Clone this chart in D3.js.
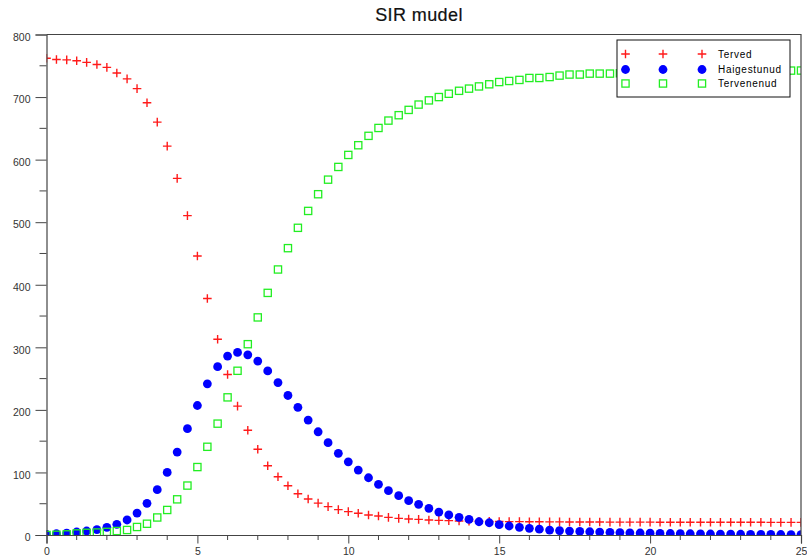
<!DOCTYPE html>
<html>
<head>
<meta charset="utf-8">
<script src="https://cdn.jsdelivr.net/npm/d3@7"></script>
<style>
  body { margin: 0; background: #fff; }
  svg { display: block; font-family: "Liberation Sans", Arial, sans-serif; }
</style>
</head>
<body>
<div id="chart"></div>
<script>
// time grid (days), step 1/3
const times = [0,0.33,0.67,1,1.33,1.67,2,2.33,2.67,3,3.33,3.67,4,4.33,4.67,5,5.33,5.67,6,6.33,6.67,
  7,7.33,7.67,8,8.33,8.67,9,9.33,9.67,10,10.33,10.67,11,11.33,11.67,12,12.33,12.67,13,13.33,13.67,
  14,14.33,14.67,15,15.33,15.67,16,16.33,16.67,17,17.33,17.67,18,18.33,18.67,19,19.33,19.67,20,
  20.33,20.67,21,21.33,21.67,22,22.33,22.67,23,23.33,23.67,24,24.33,24.67,25];

// Terved (S)
const terved = [762,760,759.5,758,755.5,752,747.5,738.5,729,713.5,
  691,660,621.5,570,510.5,446,378,313,256.5,206,
  167.5,137,110.7,93,78.8,66,57.5,51,45.3,40.5,
  37.3,34.7,32,30.4,28.2,26.6,25.6,25,24,23.4,
  22.9,22.4,22.1,21.9,21.7,21.5,21.4,21.3,21.2,21.1,
  21,20.9,20.8,20.8,20.7,20.7,20.6,20.6,20.5,20.5,
  20.5,20.4,20.4,20.4,20.4,20.3,20.3,20.3,20.3,20.3,
  20.3,20.3,20.2,20.2,20.2,20.2];

// Haigestunud (I)
const haigestunud = [1,2,3,4.8,6.4,8.5,12.3,17,24,35,
  50.6,72.4,100,132.6,170,207,241.7,269,286,291.8,
  288,278,262.3,243.7,223,204,183.7,165,147.5,130.5,
  117,103.8,91.5,81,70.8,62.8,54.8,49,42.6,36.7,
  32,28.2,25,21.2,19.6,16.5,14.4,12.3,10.7,9.3,
  7.8,7,6.3,5.7,5.2,4.7,4.2,3.8,3.5,3.2,
  2.9,2.6,2.4,2.2,2,1.8,1.6,1.5,1.3,1.2,
  1.1,1,0.9,0.8,0.7,0.6];

// Tervenenud (R)
const tervenenud = [0,0.4,1,2.5,3.5,4,5,6.4,8,12.8,
  18,28,40,57,79,108.6,141,178,220,262.5,
  305,347.8,387,424.4,458.5,491,518,544.7,568,588.3,
  607.5,623,638,650.6,662.4,671,679.5,688,694.7,700,
  705.3,710,713.5,717,720.4,724,725.7,727.4,730.5,730.5,
  732,734.3,736,736,737.5,737.5,737.5,738,738.5,739,
  739.3,739.6,739.9,740.2,740.5,740.8,741,741.2,741.4,741.6,
  741.8,742,742,742.2,742.3,742.4];

const seriesNames = ["Terved", "Haigestunud", "Tervenenud"];
const title = "SIR mudel";

const width = 807, height = 560;
const m = {left: 46.5, right: 801, top: 34.5, bottom: 535};

const svg = d3.select("#chart").append("svg")
  .attr("width", width).attr("height", height);

const x = d3.scaleLinear().domain([0, 25]).range([m.left, m.right]);
const y = d3.scaleLinear().domain([0, 800]).range([m.bottom, m.top]);

svg.append("text")
  .attr("x", 419).attr("y", 20.5)
  .attr("text-anchor", "middle")
  .attr("font-size", 18)
  .attr("letter-spacing", 0.4)
  .attr("stroke", "#111").attr("stroke-width", 0.2)
  .attr("fill", "#111")
  .text(title);

// clip markers to axes box
svg.append("defs").append("clipPath").attr("id", "plotclip")
  .append("rect")
  .attr("x", m.left).attr("y", m.top)
  .attr("width", m.right - m.left).attr("height", m.bottom - m.top);

const plot = svg.append("g").attr("clip-path", "url(#plotclip)");

const rows = times.map((t, i) => ({t, s: terved[i], i: haigestunud[i], r: tervenenud[i]}));

const crossPath = h => `M${-h},0H${h}M0,${-h}V${h}`;

function drawCross(g, cx, cy) {
  g.append("path")
    .attr("transform", `translate(${cx},${cy})`)
    .attr("d", crossPath(4.3))
    .attr("stroke", "#ff1a1a").attr("stroke-width", 1.4).attr("fill", "none");
}
function drawDot(g, cx, cy) {
  g.append("circle").attr("cx", cx).attr("cy", cy).attr("r", 4.4).attr("fill", "#0000ff");
}
function drawSquare(g, cx, cy) {
  g.append("rect").attr("x", cx - 3.6).attr("y", cy - 3.6)
    .attr("width", 7.2).attr("height", 7.2)
    .attr("fill", "none").attr("stroke", "#22ee22").attr("stroke-width", 1.3);
}

plot.selectAll(".s").data(rows).join("path").attr("class", "s")
  .attr("transform", d => `translate(${x(d.t)},${y(d.s)})`)
  .attr("d", crossPath(4.3))
  .attr("stroke", "#ff1a1a").attr("stroke-width", 1.4).attr("fill", "none");

plot.selectAll(".i").data(rows).join("circle").attr("class", "i")
  .attr("cx", d => x(d.t)).attr("cy", d => y(d.i))
  .attr("r", 4.4).attr("fill", "#0000ff");

plot.selectAll(".r").data(rows).join("rect").attr("class", "r")
  .attr("x", d => x(d.t) - 3.6).attr("y", d => y(d.r) - 3.6)
  .attr("width", 7.2).attr("height", 7.2)
  .attr("fill", "none").attr("stroke", "#22ee22").attr("stroke-width", 1.3);

// frame (top / right)
svg.append("path")
  .attr("d", `M${m.left},${m.top}H${m.right}V${m.bottom}`)
  .attr("fill", "none").attr("stroke", "#444").attr("stroke-width", 1.2);

// y axis
const yAxis = svg.append("g").attr("transform", `translate(${m.left},0)`);
yAxis.call(d3.axisLeft(y).tickValues(d3.range(0, 801, 100)).tickSize(11).tickPadding(5));
yAxis.selectAll(".minor").data(d3.range(50, 800, 100)).join("line").attr("class", "minor")
  .attr("x1", -7).attr("x2", 0).attr("y1", d => y(d)).attr("y2", d => y(d))
  .attr("stroke", "#444");

// x axis
const xAxis = svg.append("g").attr("transform", `translate(0,${m.bottom})`);
xAxis.call(d3.axisBottom(x).tickValues(d3.range(0, 26, 5)).tickSize(8.5).tickPadding(4));
xAxis.selectAll(".minor").data(d3.range(0, 26, 1).filter(d => d % 5)).join("line").attr("class", "minor")
  .attr("x1", d => x(d)).attr("x2", d => x(d)).attr("y1", 0).attr("y2", 5)
  .attr("stroke", "#444");

svg.selectAll(".domain").attr("stroke", "#444").attr("stroke-width", 1.2);
svg.selectAll(".tick line").attr("stroke", "#444");
svg.selectAll(".tick text").attr("font-size", 10.5).attr("fill", "#333")
  .attr("font-family", "'Liberation Sans', Arial, sans-serif");
yAxis.selectAll(".tick text").attr("dy", "0.55em");

// legend
const legend = svg.append("g");
legend.append("rect")
  .attr("x", 617).attr("y", 40).attr("width", 173).attr("height", 57)
  .attr("fill", "#fff").attr("stroke", "#111").attr("stroke-width", 1);

const legendRows = [54, 69.5, 83.5];
const legendCols = [625.5, 663, 702];
const drawers = [drawCross, drawDot, drawSquare];
seriesNames.forEach((name, k) => {
  legendCols.forEach(cx => drawers[k](legend, cx, legendRows[k]));
  legend.append("text")
    .attr("x", 718).attr("y", legendRows[k] + 3.5)
    .attr("font-size", 10).attr("letter-spacing", 0.7)
    .attr("fill", "#000")
    .text(name);
});
</script>
</body>
</html>
